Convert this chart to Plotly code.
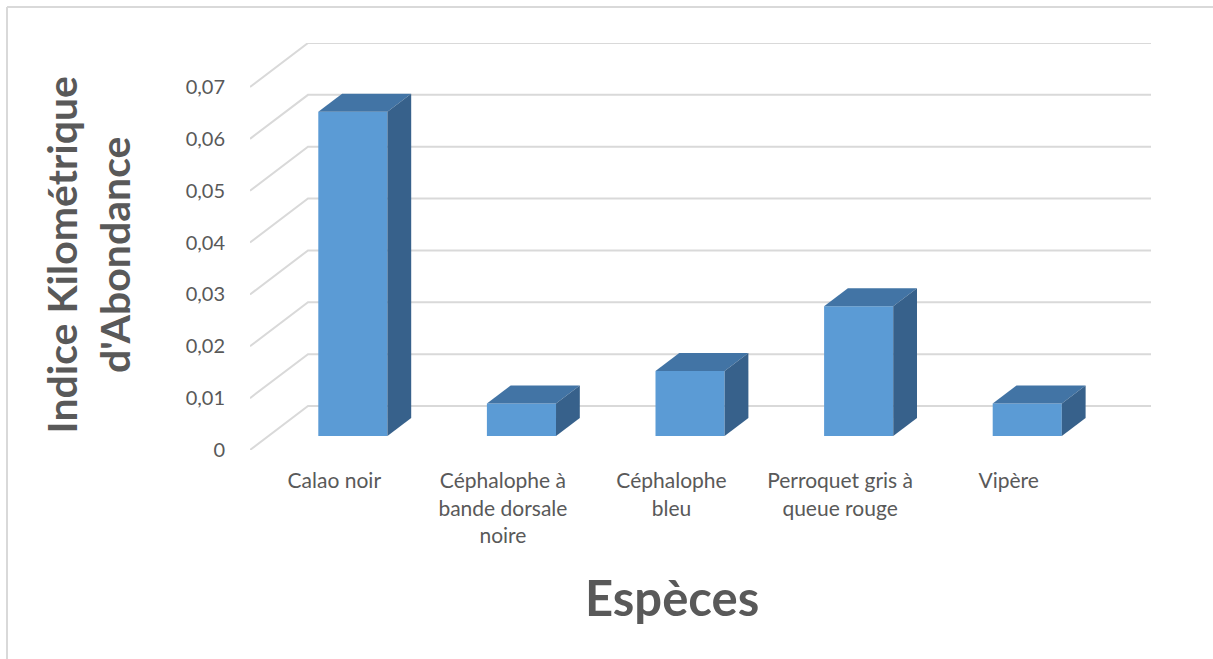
import plotly.graph_objects as go

# Indice Kilométrique d'Abondance par espèce
categories = [
    "Calao noir",
    "Céphalophe à<br>bande dorsale<br>noire",
    "Céphalophe<br>bleu",
    "Perroquet gris à<br>queue rouge",
    "Vipère",
]
ika_values = [0.0625, 0.00625, 0.0125, 0.025, 0.00625]
tick_values = [0, 0.01, 0.02, 0.03, 0.04, 0.05, 0.06, 0.07]
tick_labels = ["0", "0,01", "0,02", "0,03", "0,04", "0,05", "0,06", "0,07"]

# Oblique projection of the 3-D box: depth 0 = front plane, 1 = back wall
DEPTH_X = 0.344      # horizontal shift (category units) for full depth
DEPTH_Y = 0.008485   # vertical shift (value units) for full depth
D_FRONT, D_BACK = 0.32, 0.73   # depth of the bars' front and back faces
HALF_W = 0.205

FRONT_COLOR = "#5B9BD5"
TOP_COLOR = "#4274A5"
SIDE_COLOR = "#37618B"
GRID_COLOR = "#D9D9D9"
TEXT_COLOR = "#595959"
FONT = "Lato"

x_idx = list(range(len(categories)))
y_top = tick_values[-1]

fig = go.Figure()

# Back-wall gridlines and side-wall diagonals, kept beneath the columns
grid_shapes = []
x_left = -0.5
x_right = len(categories) - 0.5 + DEPTH_X
for v in tick_values:
    path = (f"M {x_left},{v} L {x_left + DEPTH_X},{v + DEPTH_Y} "
            f"L {x_right},{v + DEPTH_Y}")
    grid_shapes.append(dict(type="path", xref="x", yref="y", path=path,
                            layer="below", line=dict(color=GRID_COLOR, width=2)))

# Front faces of the columns
fig.add_trace(go.Bar(
    x=x_idx, y=ika_values,
    base=[D_FRONT * DEPTH_Y] * len(x_idx),
    width=2 * HALF_W,
    offset=-HALF_W + D_FRONT * DEPTH_X,
    marker=dict(color=FRONT_COLOR, line=dict(width=0)),
    showlegend=False, hoverinfo="skip",
))

# Top and side faces
for c, v in zip(x_idx, ika_values):
    xl0 = c - HALF_W + D_FRONT * DEPTH_X
    xr0 = c + HALF_W + D_FRONT * DEPTH_X
    xl1 = c - HALF_W + D_BACK * DEPTH_X
    xr1 = c + HALF_W + D_BACK * DEPTH_X
    y0 = D_FRONT * DEPTH_Y
    y1 = D_BACK * DEPTH_Y
    fig.add_trace(go.Scatter(
        x=[xl0, xr0, xr1, xl1, xl0], y=[v + y0, v + y0, v + y1, v + y1, v + y0],
        mode="lines", fill="toself", fillcolor=TOP_COLOR,
        line=dict(width=0, color=TOP_COLOR), hoverinfo="skip", showlegend=False))
    fig.add_trace(go.Scatter(
        x=[xr0, xr1, xr1, xr0, xr0], y=[y0, y1, v + y1, v + y0, y0],
        mode="lines", fill="toself", fillcolor=SIDE_COLOR,
        line=dict(width=0, color=SIDE_COLOR), hoverinfo="skip", showlegend=False))

border_x = -243 / 901
border_y = (450 - 7) / 407

fig.update_layout(
    width=1213, height=659,
    margin=dict(l=250, r=62, t=43, b=209),
    paper_bgcolor="white", plot_bgcolor="white",
    font=dict(family=FONT, color=TEXT_COLOR),
    xaxis=dict(
        range=[x_left, x_right],
        tickvals=x_idx, ticktext=categories,
        tickfont=dict(size=21, color=TEXT_COLOR, family=FONT),
        ticks="outside", ticklen=12, tickcolor="rgba(0,0,0,0)",
        showgrid=False, zeroline=False, showline=False, fixedrange=True,
    ),
    yaxis=dict(
        range=[0, y_top + DEPTH_Y],
        tickvals=tick_values, ticktext=tick_labels,
        tickfont=dict(size=20, color=TEXT_COLOR, family=FONT),
        ticks="outside", ticklen=20, tickcolor="rgba(0,0,0,0)",
        showgrid=False, zeroline=False, showline=False, fixedrange=True,
    ),
    annotations=[
        dict(text="Espèces", xref="paper", yref="paper", x=0.468, y=-0.36,
             xanchor="center", yanchor="middle", showarrow=False,
             font=dict(size=49, color=TEXT_COLOR, family=FONT, weight="bold")),
        dict(text="Indice Kilométrique<br>d'Abondance", xref="paper", yref="paper",
             x=-0.18, y=0.48, xanchor="center", yanchor="middle", textangle=-90,
             showarrow=False, align="center",
             font=dict(size=41, color=TEXT_COLOR, family=FONT, weight="bold")),
    ],
    shapes=grid_shapes + [
        dict(type="line", xref="paper", yref="paper",
             x0=border_x, x1=1.2, y0=border_y, y1=border_y,
             line=dict(color=GRID_COLOR, width=2)),
        dict(type="line", xref="paper", yref="paper",
             x0=border_x, x1=border_x, y0=border_y, y1=-1,
             line=dict(color=GRID_COLOR, width=2)),
    ],
)

fig.write_html("out.html")
